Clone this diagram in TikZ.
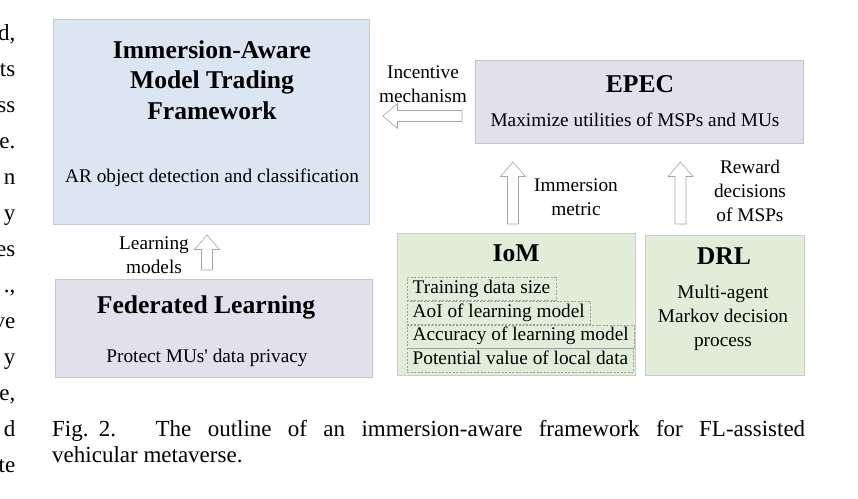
\documentclass[tikz,border=0pt]{standalone}
\usepackage{fontspec}
\setmainfont{Liberation Serif}
\usetikzlibrary{positioning,shadows}
\definecolor{boxblue}{RGB}{220,230,242}
\definecolor{boxlilac}{RGB}{225,224,235}
\definecolor{boxgreen}{RGB}{226,237,217}
\definecolor{arrline}{RGB}{165,165,165}
\tikzset{
  panel/.style={fill=#1, draw=#1!88!black, line width=0.4pt, anchor=north west, inner sep=0pt,
    drop shadow={shadow xshift=1pt, shadow yshift=-1.2pt, fill=black!30, opacity=0.5}},
  title/.style={font=\fontsize{25.6}{30.5}\selectfont\bfseries, align=center, inner sep=0pt},
  body/.style={font=\fontsize{19.3}{24}\selectfont, align=center, inner sep=0pt},
  dbox/.style={draw=black!38, dashed, dash pattern=on 2pt off 1.5pt, line width=0.4pt,
    font=\fontsize{19.3}{24}\selectfont, text height=13pt, text depth=4.2pt,
    inner xsep=5.5pt, inner ysep=3.1pt, anchor=north west},
  blockarrow/.style={draw=arrline, fill=white, line width=0.6pt, line join=miter},
  capt/.style={font=\fontsize{23}{26}\selectfont, inner sep=0pt, anchor=base west}
}
\begin{document}
\begin{tikzpicture}[x=1pt, y=-1pt]
  \useasboundingbox (0,0) rectangle (858,498);
  % boxes
  \node[panel=boxblue, minimum width=316pt, minimum height=205pt] (frame) at (53,19) {};
  \node[panel=boxlilac, minimum width=328pt, minimum height=83pt] (epec) at (475,60) {};
  \node[panel=boxlilac, minimum width=317pt, minimum height=98pt] (fl) at (55,279) {};
  \node[panel=boxgreen, minimum width=238pt, minimum height=142pt] (iom) at (397,233) {};
  \node[panel=boxgreen, minimum width=159pt, minimum height=140pt] (drl) at (645,235) {};
  % box texts
  \node[title] (frameT) at (212,80) {Immersion-Aware\\Model Trading\\Framework};
  \node[body] (frameB) at (212,178) {AR object detection and classification};
  \node[title] (epecT) at (640,84) {EPEC};
  \node[body] (epecB) at (635,120) {Maximize utilities of MSPs and MUs};
  \node[title] (flT) at (206,307) {Federated Learning};
  \node[body] (flB) at (207,358) {Protect MUs\textquotesingle\ data privacy};
  \node[title] (iomT) at (516,253) {IoM};
  \node[title] (drlT) at (724,256) {DRL};
  \node[body] (drlB) at (723,318) {Multi-agent\\Markov decision\\process};
  % metrics of IoM
  \node[dbox] (size) at (407,277) {Training data size};
  \node[dbox, below right=0pt and 0pt of size.south west] (aoi) {AoI of learning model};
  \node[dbox, below right=0pt and 0pt of aoi.south west] (acc) {Accuracy of learning model};
  \node[dbox, below right=0pt and 0pt of acc.south west] (pot) {Potential value of local data};
  % block arrows
  \foreach \x/\y/\len/\ang in {462/116/79/180, 513/224/62/90, 680.5/224/62/90, 207/270/35/90}
    \draw[blockarrow, shift={(\x,\y)}, rotate=\ang]
      (0,-5.5) -- (\len-14.5,-5.5) -- (\len-14.5,-12.5) -- (\len,0)
      -- (\len-14.5,12.5) -- (\len-14.5,5.5) -- (0,5.5) -- cycle;
  % arrow labels
  \node[body] (incL) at (423,84) {Incentive\\mechanism};
  \node[body] (immL) at (576,197) {Immersion\\metric};
  \node[body] (rewL) at (750,191) {Reward\\decisions\\of MSPs};
  \node[body] (lrnL) at (154,255) {Learning\\models};
  % caption
  \node[capt] (cap1) at (52,436)
    {\makebox[753pt][s]{Fig.\hspace{0.45em}2. The outline of an immersion-aware framework for FL-assisted}};
  \node[capt] (cap2) at (52,462) {vehicular metaverse.};
  % cut words of the next column
  \foreach \w [count=\i] in {{d,},ts,ss,{e.},n,y,es,{.,},ve,y,{e,},d,te}
    \node[font=\fontsize{23}{26}\selectfont, inner sep=0pt, anchor=base east] (col\i)
      at (15.5,{40+(\i-1)*36}) {\w};
\end{tikzpicture}
\end{document}
